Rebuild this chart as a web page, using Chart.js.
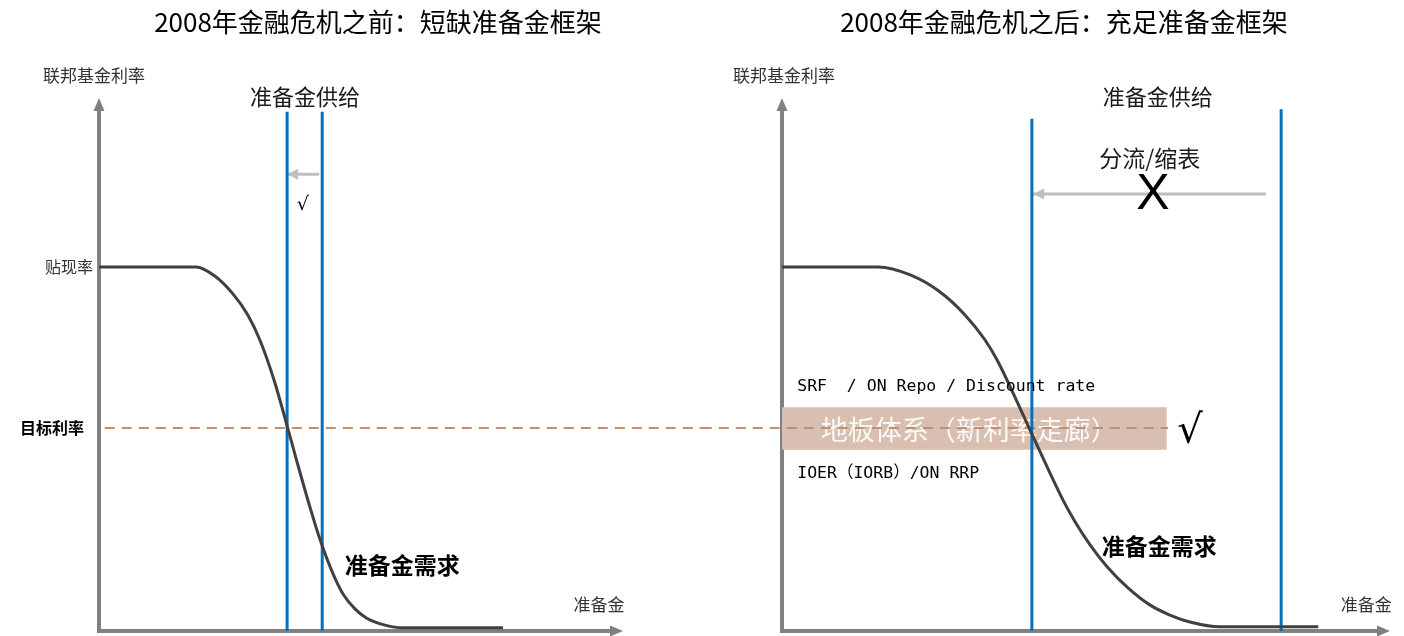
<!DOCTYPE html>
<html lang="zh-CN">
<head>
<meta charset="utf-8">
<title>准备金框架</title>
<script src="https://cdn.jsdelivr.net/npm/chart.js@4.4.1/dist/chart.umd.min.js"></script>
<style>
  html, body { margin:0; padding:0; background:#ffffff; }
  #wrap { position:relative; width:1404px; height:636px; overflow:hidden; background:#fff; }
  .panel { position:absolute; top:0; width:702px; height:636px; }
  canvas { display:block; }
</style>
</head>
<body>
<div id="wrap">
  <div class="panel" style="left:0"><canvas id="before" width="702" height="636"></canvas></div>
  <div class="panel" style="left:702px"><canvas id="after" width="702" height="636"></canvas></div>
</div>
<script>
// ---------------- data (notional units: reserves 0-100, rate 0-100) ----------------
const panelTitles = ['2008年金融危机之前：短缺准备金框架', '2008年金融危机之后：充足准备金框架'];
const yAxisTitle = '联邦基金利率';
const xAxisTitle = '准备金';
const supplyLabel = '准备金供给';
const demandLabel = '准备金需求';
const discountLabel = '贴现率';
const targetLabel = '目标利率';
const shiftLabel = '分流/缩表';
const corridorLabel = '地板体系（新利率走廊）';
const ceilingLabel = 'SRF  / ON Repo / Discount rate';
const floorLabel = 'IOER（IORB）/ON RRP';
const checkMark = '√';
const crossMark = 'X';

const discountRate = 68.3;
const targetRate = 38.1;
const corridorCeiling = 42.0;
const corridorFloor = 34.0;

// before 2008: scarce reserves
const beforeDemandX = [0, 18.5, 22.1, 25.6, 28.4, 30.7, 33.4, 35.9, 37.8, 40.3, 42.2, 44.5, 46.6, 48.9, 51.1, 54.6, 58.0, 77.1];
const beforeDemandY = [68.3, 68.3, 66.6, 63.2, 59.3, 54.6, 47.1, 38.5, 31.7, 23.1, 17.1, 11.1, 6.9, 4.1, 2.4, 1.1, 0.6, 0.6];
const beforeSupply = [35.9, 42.6];
const beforeSupplyTop = [97.4, 97.4];
const beforeShift = [42.0, 35.9];
const beforeShiftLevel = 85.7;
const beforeTargetSpan = [1.1, 115.1];

// after 2008: ample reserves
const afterDemandX = [0, 15.8, 21.1, 26.0, 30.1, 33.4, 35.4, 40.8, 46.2, 48.2, 50.7, 53.5, 56.9, 60.5, 63.8, 67.1, 72.0, 88.2];
const afterDemandY = [68.3, 68.3, 66.8, 63.6, 59.3, 54.6, 50.8, 37.7, 24.6, 20.5, 16.1, 12.0, 8.1, 4.9, 3.0, 1.7, 0.8, 0.8];
const afterSupply = [41.1, 82.1];
const afterSupplyTop = [96.1, 97.9];
const afterShift = [79.6, 41.3];
const afterShiftLevel = 82.0;
const afterTargetSpan = [-13.2, 63.5];
const corridorSpan = [0, 63.3];

// ---------------- styles ----------------
const CJK = '"Noto Sans CJK SC", "Noto Sans", sans-serif';
const F = {
  title: '26px ' + CJK,
  axis: '17px ' + CJK,
  supply: '22px ' + CJK,
  demand: 'bold 23px ' + CJK,
  discount: '16px ' + CJK,
  target: 'bold 16px ' + CJK,
  shift: '23px ' + CJK,
  cross: '50px "Liberation Sans", "DejaVu Sans", sans-serif',
  checkSmall: '19px "DejaVu Sans", sans-serif',
  checkBig: '40px "DejaVu Sans", sans-serif',
  mono: '16.5px "DejaVu Sans Mono", "Noto Sans CJK SC", monospace',
  corridor: '27px ' + CJK
};
const C = {
  axis: '#808080', curve: '#404040', supply: '#0070C0', shift: '#BFBFBF',
  target: '#C0906E', band: '#D9BFB1', text: '#1A1A1A', soft: '#333333'
};

function pts(xs, ys) { return xs.map((x, i) => ({ x: x, y: ys[i] })); }

function buildDatasets(p) {
  const ds = [];
  ds.push({ data: pts(p.demandX, p.demandY), borderColor: C.curve, borderWidth: 3, cubicInterpolationMode: 'monotone', order: 0 });
  p.supply.forEach((s, i) => ds.push({ data: [{ x: s, y: 0 }, { x: s, y: p.supplyTop[i] }], borderColor: C.supply, borderWidth: 3, order: 1 }));
  ds.push({ data: [{ x: p.targetSpan[0], y: targetRate }, { x: p.targetSpan[1], y: targetRate }], borderColor: C.target, borderWidth: 2, borderDash: [10, 7], clip: false, order: 2 });
  ds.push({ data: [{ x: p.shift[0], y: p.shiftLevel }, { x: p.shift[1], y: p.shiftLevel }], borderColor: C.shift, borderWidth: 3, arrow: true, order: 2 });
  if (p.corridor) {
    ds.push({ data: [{ x: corridorSpan[0], y: corridorCeiling }, { x: corridorSpan[1], y: corridorCeiling }], borderWidth: 0, borderColor: 'rgba(0,0,0,0)', backgroundColor: C.band, fill: { value: corridorFloor }, band: true, order: 10 });
  }
  return ds;
}

function drawText(ctx, t, x, y, font, color, align) {
  ctx.save();
  ctx.font = font; ctx.fillStyle = color; ctx.textAlign = align || 'left'; ctx.textBaseline = 'middle';
  ctx.fillText(t, x, y);
  ctx.restore();
}
function arrowHead(ctx, x, y, dx, dy, len, half, color) {
  const n = Math.hypot(dx, dy), ux = dx / n, uy = dy / n;
  ctx.save();
  ctx.beginPath();
  ctx.moveTo(x, y);
  ctx.lineTo(x - ux * len - uy * half, y - uy * len + ux * half);
  ctx.lineTo(x - ux * len + uy * half, y - uy * len - ux * half);
  ctx.closePath(); ctx.fillStyle = color; ctx.fill();
  ctx.restore();
}

const decor = {
  id: 'decor',
  beforeDatasetsDraw(chart) {
    const a = chart.chartArea, ctx = chart.ctx;
    ctx.save();
    ctx.strokeStyle = C.axis; ctx.lineWidth = 4;
    ctx.beginPath(); ctx.moveTo(a.left, a.bottom + 2); ctx.lineTo(a.left, a.top + 10); ctx.stroke();
    ctx.beginPath(); ctx.moveTo(a.left - 2, a.bottom); ctx.lineTo(a.right - 10, a.bottom); ctx.stroke();
    ctx.restore();
    arrowHead(ctx, a.left, a.top, 0, -1, 13, 5.5, C.axis);
    arrowHead(ctx, a.right, a.bottom, 1, 0, 13, 5.5, C.axis);
  },
  afterDatasetDraw(chart, args) {
    const d = chart.data.datasets[args.index];
    const ctx = chart.ctx, sx = chart.scales.x, sy = chart.scales.y;
    if (d.arrow) {
      const p0 = d.data[0], p1 = d.data[d.data.length - 1];
      const x0 = sx.getPixelForValue(p0.x), x1 = sx.getPixelForValue(p1.x);
      const y0 = sy.getPixelForValue(p0.y), y1 = sy.getPixelForValue(p1.y);
      arrowHead(ctx, x1, y1, x1 - x0, y1 - y0, 11, 5.5, C.shift);
    }
    if (d.band) {
      const cfg = chart.options.plugins.decor;
      const n = cfg.bandNote;
      ctx.save(); ctx.globalAlpha = 0.9;
      drawText(ctx, n.text, sx.getPixelForValue(n.x), sy.getPixelForValue(n.y), n.font, '#FFFFFF', 'center');
      ctx.restore();
    }
  },
  afterDatasetsDraw(chart) {
    const cfg = chart.options.plugins.decor;
    const ctx = chart.ctx, a = chart.chartArea, sx = chart.scales.x, sy = chart.scales.y;
    drawText(ctx, cfg.title, cfg.titleX, 22, F.title, '#000', 'center');
    drawText(ctx, yAxisTitle, cfg.yTitleX, 76, F.axis, C.soft, 'left');
    if (cfg.showRates) {
      drawText(ctx, discountLabel, a.left - 6, sy.getPixelForValue(discountRate), F.discount, C.soft, 'right');
      drawText(ctx, targetLabel, a.left - 79, sy.getPixelForValue(targetRate), F.target, '#000', 'left');
    }
    cfg.notes.forEach(n => drawText(ctx, n.text, sx.getPixelForValue(n.x), sy.getPixelForValue(n.y), n.font, n.color || C.text, n.align));
  }
};

function makeChart(id, p) {
  return new Chart(document.getElementById(id), {
    type: 'line',
    data: { datasets: buildDatasets(p) },
    options: {
      responsive: false,
      animation: false,
      devicePixelRatio: 1,
      layout: { padding: p.padding },
      elements: { point: { radius: 0, hoverRadius: 0 }, line: { tension: 0 } },
      scales: {
        x: { type: 'linear', min: 0, max: 100, display: false },
        y: { type: 'linear', min: 0, max: 100, display: false }
      },
      plugins: {
        legend: { display: false }, tooltip: { enabled: false }, title: { display: false },
        decor: { title: p.title, titleX: p.titleX, yTitleX: p.yTitleX, showRates: p.showRates, notes: p.notes, bandNote: p.bandNote }
      }
    },
    plugins: [decor]
  });
}

makeChart('before', {
  title: panelTitles[0], titleX: 378, yTitleX: 43, showRates: true,
  padding: { left: 99, right: 79, top: 98, bottom: 5 },
  demandX: beforeDemandX, demandY: beforeDemandY,
  supply: beforeSupply, supplyTop: beforeSupplyTop,
  shift: beforeShift, shiftLevel: beforeShiftLevel,
  targetSpan: beforeTargetSpan, corridor: false,
  notes: [
    { text: supplyLabel, x: 39.3, y: 100.2, font: F.supply, align: 'center' },
    { text: checkMark, x: 38.9, y: 79.9, font: F.checkSmall, align: 'center', color: '#000' },
    { text: demandLabel, x: 46.9, y: 12.4, font: F.demand, align: 'left', color: '#000' },
    { text: xAxisTitle, x: 95.4, y: 4.9, font: F.axis, align: 'center', color: C.soft }
  ]
});

makeChart('after', {
  title: panelTitles[1], titleX: 362, yTitleX: 31, showRates: false,
  padding: { left: 80, right: 14, top: 98, bottom: 5 },
  demandX: afterDemandX, demandY: afterDemandY,
  supply: afterSupply, supplyTop: afterSupplyTop,
  shift: afterShift, shiftLevel: afterShiftLevel,
  targetSpan: afterTargetSpan, corridor: true,
  bandNote: { text: corridorLabel, x: 30.8, y: 37.7, font: F.corridor },
  notes: [
    { text: supplyLabel, x: 61.8, y: 100.2, font: F.supply, align: 'center' },
    { text: shiftLabel, x: 60.5, y: 88.7, font: F.shift, align: 'center' },
    { text: crossMark, x: 61.0, y: 81.8, font: F.cross, align: 'center', color: '#000' },
    { text: ceilingLabel, x: 2.5, y: 45.8, font: F.mono, align: 'left', color: '#000' },
    { text: floorLabel, x: 2.5, y: 29.5, font: F.mono, align: 'left', color: '#000' },
    { text: checkMark, x: 67.1, y: 37.3, font: F.checkBig, align: 'center', color: '#000' },
    { text: demandLabel, x: 52.6, y: 15.9, font: F.demand, align: 'left', color: '#000' },
    { text: xAxisTitle, x: 96.1, y: 4.9, font: F.axis, align: 'center', color: C.soft }
  ]
});
</script>
</body>
</html>
